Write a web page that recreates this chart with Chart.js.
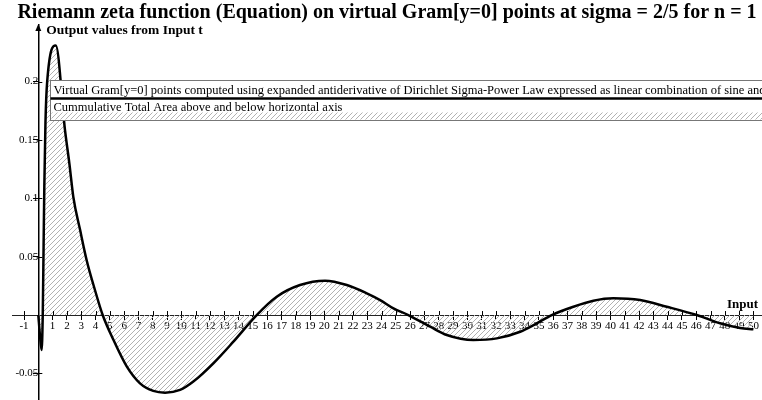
<!DOCTYPE html>
<html>
<head>
<meta charset="utf-8">
<title>Riemann zeta function on virtual Gram points</title>
<script src="https://cdn.jsdelivr.net/npm/chart.js@4.4.1/dist/chart.umd.min.js"></script>
<style>
    html, body { margin: 0; padding: 0; background: #fff; }
    #chartBox { width: 762px; height: 400px; }
</style>
</head>
<body>
<div id="chartBox"><canvas id="zetaChart" width="762" height="400"></canvas></div>
<script>

/***************************************************/
/********************** DATA ***********************/
/***************************************************/

// input t (virtual Gram[y=0] points) and the output values
const inputT = [
    0, 0.12, 0.23, 0.31, 0.37, 0.42, 0.5, 0.62, 1.22, 1.87, 2.17, 2.45, 2.92, 3.38, 3.97, 4.5,
    5.24, 6.18, 7.11, 8.04, 8.86, 9.91, 10.84, 12.24, 13.64, 15.27, 16.67, 18.3, 20.05,
    21.57, 22.97, 23.9, 24.83, 25.87, 27.4, 28.56, 30.42, 32.06, 33.69, 34.85, 35.9,
    37.41, 38.81, 40.2, 42.08, 43.94, 46.04, 47.67, 49.07, 50
];
const outputZ = [
    0, -0.018, -0.030, 0, 0.06, 0.11, 0.165, 0.2, 0.231, 0.158, 0.13, 0.101, 0.073, 0.047, 0.021, 0,
    -0.021, -0.044, -0.0585, -0.065, -0.0665, -0.0642, -0.057, -0.0414, -0.0228, 0, 0.0157, 0.0257, 0.0294,
    0.0257, 0.0186, 0.0128, 0.0057, 0, -0.010, -0.0171, -0.0214, -0.020, -0.0143, -0.0071, 0,
    0.0071, 0.0122, 0.0143, 0.0128, 0.0071, 0, -0.0071, -0.0111, -0.0122
];

const xTickValues = [
    -1, 1, 2, 3, 4, 5, 6, 7, 8, 9, 10, 11, 12, 13, 14, 15, 16, 17, 18, 19, 20,
    21, 22, 23, 24, 25, 26, 27, 28, 29, 30, 31, 32, 33, 34, 35, 36, 37, 38, 39, 40,
    41, 42, 43, 44, 45, 46, 47, 48, 49, 50
];
const yTickValues = [-0.05, 0.05, 0.1, 0.15, 0.2];
const yTickLabels = ['-0.05', '0.05', '0.1', '0.15', '0.2'];

const titleText = 'Riemann zeta function (Equation) on virtual Gram[y=0] points at sigma = 2/5 for n = 1';
const xAxisLabel = 'Input';
const yAxisLabel = 'Output values from Input t';
const legendLabels = [
    'Virtual Gram[y=0] points computed using expanded antiderivative of Dirichlet Sigma-Power Law expressed as linear combination of sine and cosine',
    'Cummulative Total Area above and below horizontal axis'
];


/***************************************************/
/***************** GENERIC SETTINGS ****************/
/***************************************************/

const serifFont = '"Liberation Serif", "Times New Roman", serif';
Chart.defaults.font.family = serifFont;
Chart.defaults.color = '#000';

function createHatchPattern() {
    const size = 5;
    const tile = document.createElement('canvas');
    tile.width = size;
    tile.height = size;
    const g = tile.getContext('2d');
    g.strokeStyle = '#b2b2b2';
    g.lineWidth = 1;
    g.beginPath();
    g.moveTo(0, size); g.lineTo(size, 0);
    g.moveTo(-1, 1); g.lineTo(1, -1);
    g.moveTo(size - 1, size + 1); g.lineTo(size + 1, size - 1);
    g.stroke();
    return g.createPattern(tile, 'repeat');
}

const hatch = createHatchPattern();

// inner half of the tick marks, arrow, axis names and the legend box
const extrasPlugin = {
    id: 'extras',
    afterDraw(chart) {
        const ctx = chart.ctx;
        const xs = chart.scales.x;
        const ys = chart.scales.y;
        const x0 = xs.getPixelForValue(0);
        const y0 = ys.getPixelForValue(0);

        ctx.save();
        ctx.strokeStyle = '#000';
        ctx.lineWidth = 1;
        ctx.beginPath();
        xs.ticks.forEach(t => {
            const px = Math.round(xs.getPixelForValue(t.value)) + 0.5;
            ctx.moveTo(px, y0 - 4);
            ctx.lineTo(px, y0);
        });
        ys.ticks.forEach(t => {
            const py = Math.round(ys.getPixelForValue(t.value)) + 0.5;
            ctx.moveTo(x0, py);
            ctx.lineTo(x0 + 4, py);
        });
        ctx.stroke();

        // arrow on top of the vertical axis
        const top = chart.chartArea.top;
        ctx.fillStyle = '#000';
        ctx.beginPath();
        ctx.moveTo(x0, top - 1);
        ctx.lineTo(x0 - 3, top + 6);
        ctx.lineTo(x0 + 3, top + 6);
        ctx.closePath();
        ctx.fill();

        // axis names
        ctx.font = 'bold 13.5px ' + serifFont;
        ctx.textBaseline = 'middle';
        ctx.textAlign = 'left';
        ctx.fillText(yAxisLabel, x0 + 8, top + 6);
        ctx.font = 'bold 13px ' + serifFont;
        ctx.textAlign = 'right';
        ctx.fillText(xAxisLabel, chart.chartArea.right - 4, y0 - 10);

        // legend
        const lx = 50.5, ly = 80.5, lw = chart.width, lh = 40;
        ctx.fillStyle = '#fff';
        ctx.fillRect(lx, ly, lw, lh);
        ctx.fillStyle = hatch;
        ctx.fillRect(lx + 1, ly + 32, lw, lh - 33);
        ctx.strokeStyle = '#777';
        ctx.lineWidth = 1;
        ctx.strokeRect(lx, ly, lw, lh);

        ctx.fillStyle = '#000';
        ctx.strokeStyle = '#000';
        ctx.lineWidth = 2.5;
        ctx.beginPath();
        ctx.moveTo(lx, ly + 18);
        ctx.lineTo(lx + lw, ly + 18);
        ctx.stroke();

        ctx.font = '12.5px ' + serifFont;
        ctx.textAlign = 'left';
        ctx.textBaseline = 'alphabetic';
        ctx.fillText(legendLabels[0], lx + 3, ly + 13);
        ctx.fillText(legendLabels[1], lx + 3, ly + 30);
        ctx.restore();
    }
};


/***************************************************/
/****************** DRAWING CHART ******************/
/***************************************************/

function drawZetaChart(chartId) {

    // define data for chart
    var points = inputT.map((t, i) => ({ x: t, y: outputZ[i] }));
    var data = {
        datasets: [{
            label: legendLabels[0],
            data: points,
            borderColor: '#000',
            borderWidth: 2.5,
            backgroundColor: hatch,
            fill: 'origin',
            pointRadius: 0,
            tension: 0.4,
            cubicInterpolationMode: 'monotone'
        }]
    };

    // define options for chart
    var options = {
        responsive: false,
        animation: false,
        devicePixelRatio: 1,
        layout: {
            padding: { left: 12, right: 0, top: 0, bottom: 0 }
        },
        plugins: {
            legend: { display: false },
            tooltip: { enabled: false },
            title: {
                display: true,
                text: titleText,
                color: '#000',
                font: { size: 20, weight: 'bold', family: serifFont },
                padding: { top: 1, bottom: 0 }
            }
        },
        scales: {
            x: {
                type: 'linear',
                min: -1.84,
                max: 50.6,
                position: { y: 0 },
                afterBuildTicks: (scale) => { scale.ticks = xTickValues.map(v => ({ value: v })); },
                afterFit: (scale) => { scale.paddingLeft = 0; scale.paddingRight = 0; },
                grid: { drawOnChartArea: false, drawTicks: true, tickLength: 4, color: '#000' },
                border: { display: true, color: '#222', width: 1 },
                ticks: {
                    autoSkip: false,
                    maxRotation: 0,
                    padding: 0,
                    font: { size: 11 },
                    color: '#000',
                    callback: (v) => String(v)
                }
            },
            y: {
                type: 'linear',
                min: -0.0728,
                max: 0.2485,
                position: { x: 0 },
                afterBuildTicks: (scale) => { scale.ticks = yTickValues.map(v => ({ value: v })); },
                afterFit: (scale) => { scale.paddingTop = 0; scale.paddingBottom = 0; },
                grid: { drawOnChartArea: false, drawTicks: true, tickLength: 5, color: '#000' },
                border: { display: true, color: '#000', width: 1.5 },
                ticks: {
                    padding: 1,
                    font: { size: 11 },
                    color: '#000',
                    callback: (v) => {
                        var i = yTickValues.indexOf(v);
                        return i >= 0 ? yTickLabels[i] : '';
                    }
                }
            }
        }
    };

    // Get the canvas element and create the chart
    const ctx = document.getElementById(chartId).getContext('2d');
    const zetaChart = new Chart(ctx, {
        type: 'line',
        data: data,
        options: options,
        plugins: [extrasPlugin]
    });
}

drawZetaChart('zetaChart');
</script>
</body>
</html>
